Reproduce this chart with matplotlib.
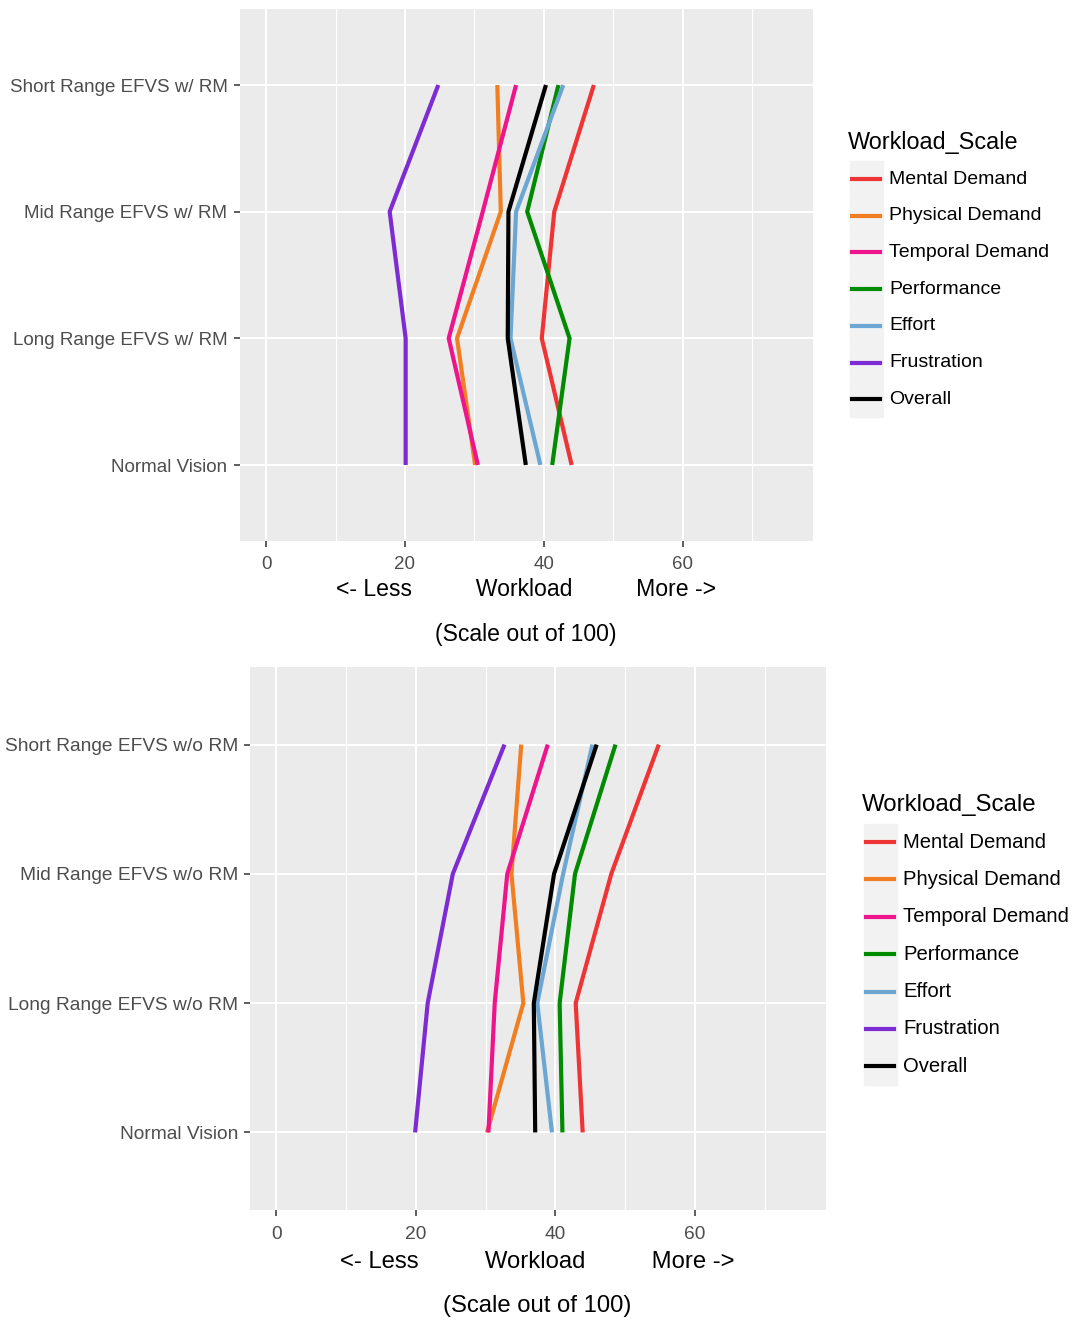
import matplotlib
matplotlib.use("Agg")
import matplotlib.pyplot as plt
from matplotlib.patches import Rectangle
from matplotlib.lines import Line2D

plt.rcParams['font.family'] = ['Liberation Sans', 'DejaVu Sans']

W, H = 1078, 1321

# ---------------- data ----------------
scales = ["Mental Demand", "Physical Demand", "Temporal Demand", "Performance",
          "Effort", "Frustration", "Overall"]
colors = ["#EE3434", "#F27E22", "#EE148C", "#008B00", "#6CA6D2", "#7D2BD2", "#000000"]

# y categories bottom -> top
cats_top = ["Normal Vision", "Long Range EFVS w/ RM", "Mid Range EFVS w/ RM", "Short Range EFVS w/ RM"]
cats_bot = ["Normal Vision", "Long Range EFVS w/o RM", "Mid Range EFVS w/o RM", "Short Range EFVS w/o RM"]

# values per scale, ordered as the categories (Normal, Long, Mid, Short)
mental_top   = [44.0, 39.7, 41.5, 47.2]
physical_top = [30.1, 27.5, 33.8, 33.3]
temporal_top = [30.5, 26.3, 31.2, 36.0]
perform_top  = [41.2, 43.7, 37.6, 42.1]
effort_top   = [39.5, 35.2, 36.0, 42.8]
frustr_top   = [20.1, 20.1, 17.8, 24.8]
overall_top  = [37.4, 34.8, 34.9, 40.3]

mental_bot   = [43.9, 42.9, 48.0, 54.8]
physical_bot = [30.2, 35.4, 33.7, 35.1]
temporal_bot = [30.4, 31.3, 33.1, 38.9]
perform_bot  = [41.0, 40.6, 42.8, 48.6]
effort_bot   = [39.5, 37.4, 41.1, 45.3]
frustr_bot   = [19.9, 21.7, 25.3, 32.7]
overall_bot  = [37.1, 36.9, 39.8, 45.9]

top_series = [mental_top, physical_top, temporal_top, perform_top, effort_top, frustr_top, overall_top]
bot_series = [mental_bot, physical_bot, temporal_bot, perform_bot, effort_bot, frustr_bot, overall_bot]

x_major = [0, 20, 40, 60]
x_minor = [10, 30, 50, 70]
legend_title = "Workload_Scale"
xlab_line1 = "<- Less          Workload          More ->"
xlab_line2 = "(Scale out of 100)"

# ---------------- layout ----------------
fig = plt.figure(figsize=(W / 100, H / 100), dpi=100)


def rect(l, t, r, b):
    return [l / W, 1 - b / H, (r - l) / W, (b - t) / H]


def fp(x, y):
    return (x / W, 1 - y / H)


def draw_panel(box, cats, series, fs, ypad, xpad):
    ax = fig.add_axes(rect(*box))
    ax.set_facecolor("#EBEBEB")
    ypos = list(range(len(cats)))
    for vals, c in zip(series, colors):
        ax.plot(vals, ypos, color=c, lw=3.0, solid_capstyle="butt",
                solid_joinstyle="miter", zorder=3)
    ax.set_xlim(-3.75, 78.75)
    ax.set_ylim(-0.6, len(cats) - 1 + 0.6)
    ax.set_xticks(x_major)
    ax.set_xticks(x_minor, minor=True)
    ax.set_yticks(ypos)
    ax.set_yticklabels(cats)
    ax.grid(which="major", color="white", lw=1.5, zorder=1)
    ax.grid(which="minor", axis="x", color="white", lw=0.8, zorder=1)
    ax.set_axisbelow(True)
    for s in ax.spines.values():
        s.set_visible(False)
    ax.tick_params(axis="both", which="major", length=4.5, width=1.1, color="#333333",
                   labelcolor="#4D4D4D", labelsize=fs)
    ax.tick_params(axis="y", which="major", pad=ypad)
    ax.tick_params(axis="x", which="major", pad=xpad)
    ax.tick_params(axis="both", which="minor", length=0)
    return ax


def draw_xlabel(cx, y1, y2, fs):
    fig.text(*fp(cx, y1), xlab_line1, ha="center", va="center", fontsize=fs, color="black")
    fig.text(*fp(cx, y2), xlab_line2, ha="center", va="center", fontsize=fs, color="black")


def draw_legend(x0, ytitle, y0, dy, keyw, fs_title, fs_text):
    fig.text(*fp(x0 - 2, ytitle), legend_title, ha="left", va="center", fontsize=fs_title)
    for i, (name, c) in enumerate(zip(scales, colors)):
        yc = y0 + i * dy
        fig.patches.append(Rectangle(fp(x0, yc + dy / 2 - 0.5), keyw / W, (dy - 1) / H,
                                     transform=fig.transFigure, color="#F2F2F2", zorder=1))
        fig.lines.append(Line2D([(x0 + 2) / W, (x0 + keyw - 3) / W], [1 - yc / H, 1 - yc / H],
                                transform=fig.transFigure, color=c, lw=3.0, zorder=2))
        fig.text(*fp(x0 + keyw + 6, yc), name, ha="left", va="center", fontsize=fs_text)


draw_panel((240, 9, 813, 541), cats_top, top_series, 13.5, 4.5, 6.5)
draw_xlabel(526, 590, 634, 16.6)
draw_legend(850, 143, 179, 36.7, 33, 16.8, 14.0)

draw_panel((250, 667, 826, 1210), cats_bot, bot_series, 13.8, 4, 7)
draw_xlabel(537, 1262, 1306, 17.2)
draw_legend(864, 805, 842, 37.4, 33, 17.3, 14.6)

fig.savefig("out.png", dpi=100)
